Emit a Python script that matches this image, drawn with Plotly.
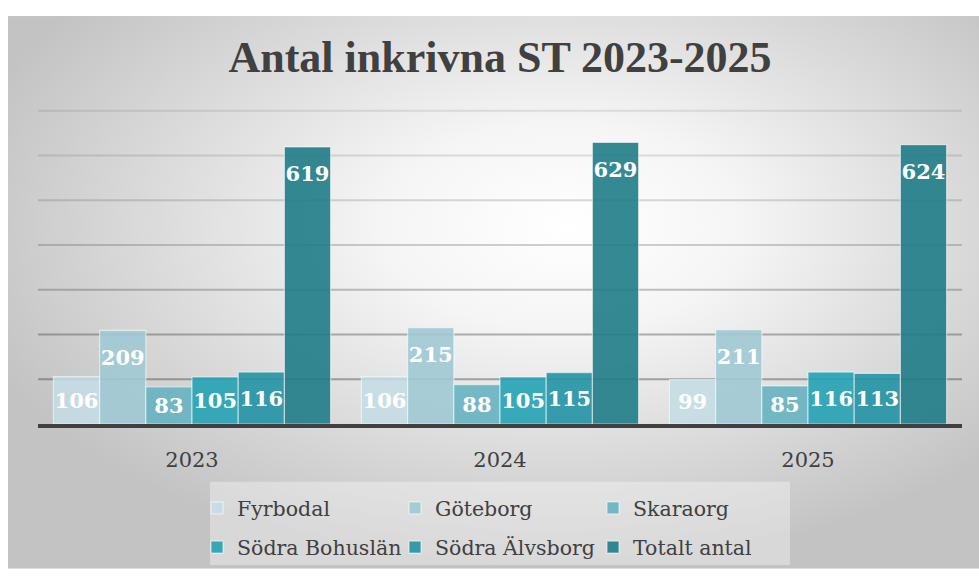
import base64
import plotly.graph_objects as go

years = ["2023", "2024", "2025"]
series_names = ["Fyrbodal", "Göteborg", "Skaraorg", "Södra Bohuslän", "Södra Älvsborg", "Totalt antal"]
fyrbodal = [106, 106, 99]
goteborg = [209, 215, 211]
skaraorg = [83, 88, 85]
sodra_bohuslan = [105, 105, 116]
sodra_alvsborg = [116, 115, 113]
totalt_antal = [619, 629, 624]
series_values = [fyrbodal, goteborg, skaraorg, sodra_bohuslan, sodra_alvsborg, totalt_antal]
grid_values = [100, 200, 300, 400, 500, 600, 700]
grid_alpha = [0.42, 0.38, 0.30, 0.24, 0.19, 0.15, 0.12]
colors = ["rgba(196,221,228,0.88)", "rgba(160,201,212,0.9)", "rgba(102,178,192,0.9)",
          "rgba(36,162,180,0.9)", "rgba(34,146,163,0.9)", "rgba(30,124,135,0.9)"]
tall = {"Göteborg", "Totalt antal"}
legend_rows = ["legend", "legend", "legend", "legend2", "legend2", "legend2"]

SERIF = "DejaVu Serif, serif"
YMAX = 706
PX_PER_UNIT = 320 / 700
W, H = 979, 579
bottom_px = 431
L = 38
R = 17
T = round(bottom_px - YMAX * PX_PER_UNIT)
B = H - bottom_px
pw, ph = W - L - R, H - T - B


def px_to_paper_x(px):
    return (px - L) / pw


def px_to_paper_y(py):
    return (bottom_px - py) / ph


svg = '''<svg xmlns="http://www.w3.org/2000/svg" width="971" height="565" viewBox="0 0 971 565">
<defs><radialGradient id="g" cx="0.55" cy="0.38" r="0.62" fx="0.58" fy="0.38">
<stop offset="0" stop-color="#ffffff"/><stop offset="0.3" stop-color="#f5f5f5"/>
<stop offset="1" stop-color="#c3c3c3"/></radialGradient></defs>
<rect width="971" height="565" fill="url(#g)"/></svg>'''
src = "data:image/svg+xml;base64," + base64.b64encode(svg.encode()).decode()

fig = go.Figure()
for name, vals, col, lg in zip(series_names, series_values, colors, legend_rows):
    if name in tall:
        tmpl = "<span style='font-size:4px'>&nbsp;</span><br>%{y}"
        anchor = "end"
    else:
        tmpl = "%{y}"
        anchor = "middle"
    fig.add_trace(go.Bar(
        name=name, x=years, y=vals, legend=lg,
        marker=dict(color=col, line=dict(color="rgba(255,255,255,0.55)", width=1.2)),
        texttemplate=tmpl, textposition="inside", insidetextanchor=anchor,
        textangle=0, constraintext="none",
        textfont=dict(family=SERIF, size=21, color="white", weight="bold"),
        hoverinfo="skip",
    ))

x0, x1 = px_to_paper_x(8), px_to_paper_x(979)
y0, y1 = px_to_paper_y(14), px_to_paper_y(579)
fig.add_layout_image(dict(source=src, xref="paper", yref="paper", x=x0, y=y0,
                          sizex=x1 - x0, sizey=y0 - y1, xanchor="left", yanchor="top",
                          sizing="stretch", layer="below"))
fig.add_shape(type="rect", xref="paper", yref="paper",
              x0=px_to_paper_x(210), x1=px_to_paper_x(790),
              y0=px_to_paper_y(490), y1=px_to_paper_y(575),
              fillcolor="rgba(255,255,255,0.35)", line=dict(width=0), layer="below")
for gv, ga in zip(grid_values, grid_alpha):
    fig.add_shape(type="line", xref="paper", yref="y", x0=0, x1=1, y0=gv, y1=gv,
                  line=dict(color=f"rgba(60,60,60,{ga})", width=2), layer="below")

leg_common = dict(orientation="h", xanchor="left", yanchor="middle",
                  entrywidth=153, entrywidthmode="pixels",
                  bgcolor="rgba(0,0,0,0)",
                  font=dict(family=SERIF, size=20.5, color="#404040"),
                  traceorder="normal")

fig.update_layout(
    width=W, height=H,
    margin=dict(l=L, r=R, t=T, b=B),
    paper_bgcolor="white", plot_bgcolor="rgba(0,0,0,0)",
    barmode="group", bargap=0.1, bargroupgap=0,
    title=dict(text="<b>Antal inkrivna ST 2023-2025</b>", x=500 / W, xanchor="center",
               y=1 - 57 / H, yanchor="middle",
               font=dict(family="Liberation Serif", size=44, color="#404040")),
    legend=dict(x=px_to_paper_x(197), y=px_to_paper_y(517), **leg_common),
    legend2=dict(x=px_to_paper_x(197), y=px_to_paper_y(557), **leg_common),
    showlegend=True,
)
fig.update_xaxes(showline=True, linewidth=3.5, linecolor="#404040", showgrid=False,
                 ticks="outside", ticklen=14, tickcolor="rgba(0,0,0,0)",
                 tickfont=dict(family=SERIF, size=21, color="#404040"))
fig.update_yaxes(range=[0, YMAX], showticklabels=False, zeroline=False, showgrid=False)

fig.write_html("out.html", config={"displayModeBar": False},
               post_script="document.body.style.margin='0px';document.body.style.overflow='hidden';")
